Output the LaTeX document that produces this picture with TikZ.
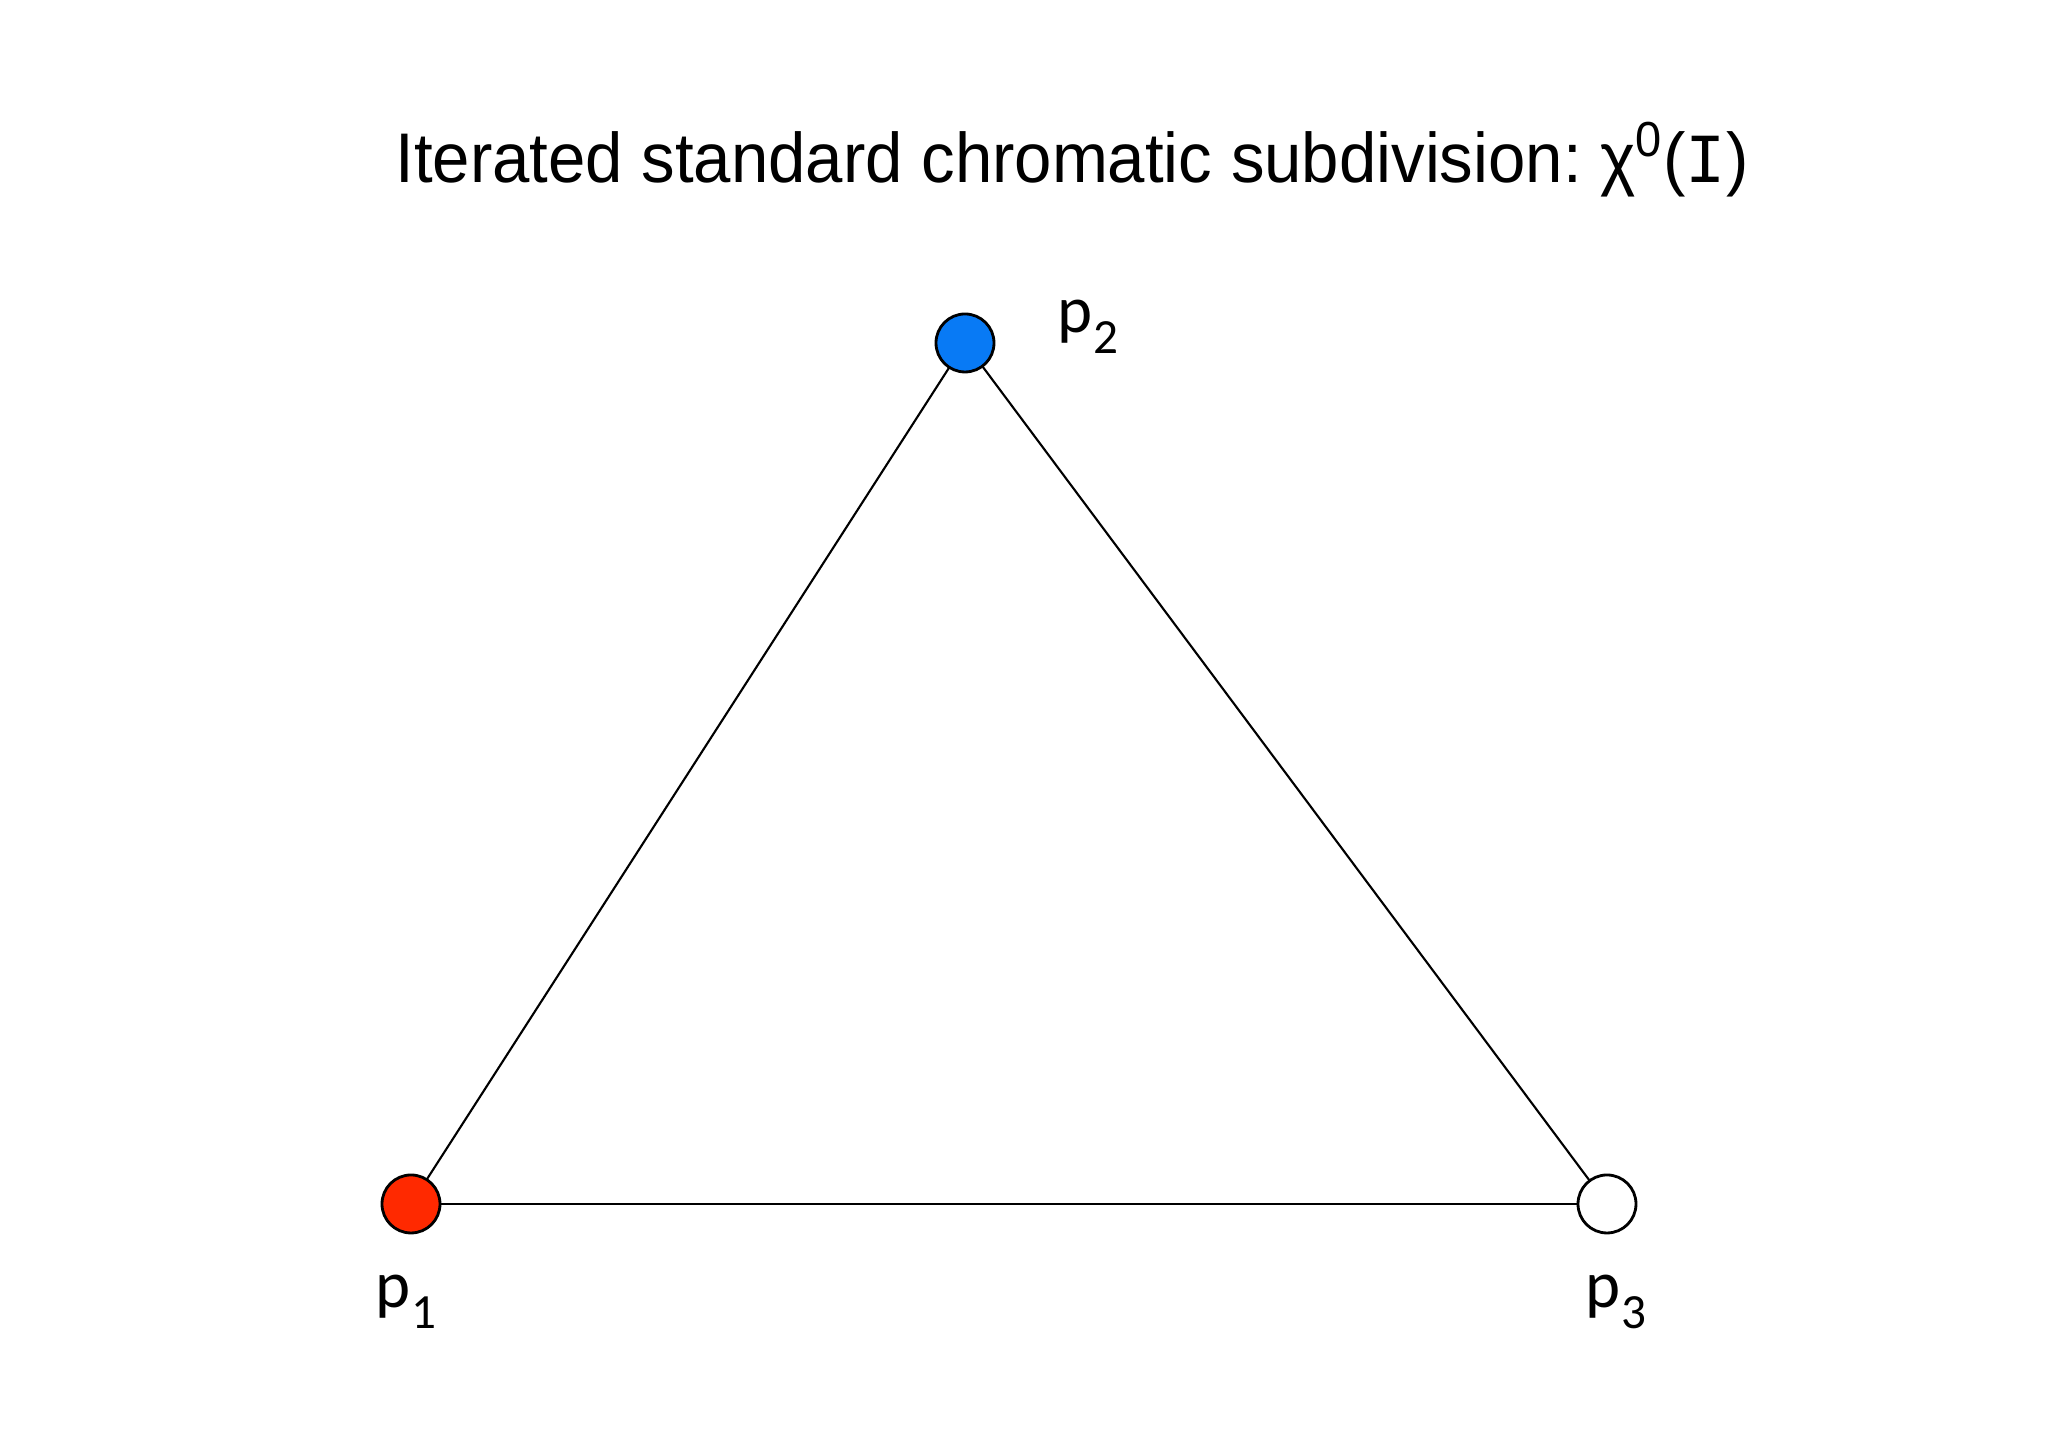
\documentclass[tikz,border=0pt]{standalone}
\usepackage{fontspec}
\setmainfont{Liberation Sans}
\newfontfamily\labelfont{Carlito}
\newfontfamily\monofont{Liberation Mono}
\usetikzlibrary{positioning}
\definecolor{procred}{rgb}{1,0.16,0}
\definecolor{procblue}{rgb}{0.03,0.48,0.96}
\newcommand{\psub}[1]{p{\fontsize{14}{14}\selectfont\raisebox{-6pt}{#1}}}

\begin{document}
\begin{tikzpicture}[line cap=round,line join=round,x=1cm,y=1cm]
\useasboundingbox (0,0) rectangle (20.48,14.47);
\tikzset{proc/.style={circle,draw=black,line width=0.8pt,minimum size=0.58cm,inner sep=0pt},
  plabel/.style={font=\labelfont\fontsize{19}{19}\selectfont}}
% title
\node[anchor=base,xscale=0.955,font=\fontsize{20}{24}\selectfont] (title) at (10.72,12.64)
  {Iterated standard chromatic subdivision:~χ\textsuperscript{0}({\monofont I})};
% vertices
\node[proc,fill=procred] (p1) at (4.11,2.43) {};
\node[proc,fill=procblue] (p2) at (9.65,11.04) {};
\node[proc,fill=white] (p3) at (16.07,2.43) {};
% edges
\draw[line width=0.6pt] (p1) -- (p2);
\draw[line width=0.6pt] (p2) -- (p3);
\draw[line width=0.6pt] (p1) -- (p3);
% labels
\node[plabel] (l1) at (4.06,1.45) {\psub{1}};
\node[plabel] (l2) at (10.88,11.2) {\psub{2}};
\node[plabel] (l3) at (16.16,1.45) {\psub{3}};
\end{tikzpicture}
\end{document}
